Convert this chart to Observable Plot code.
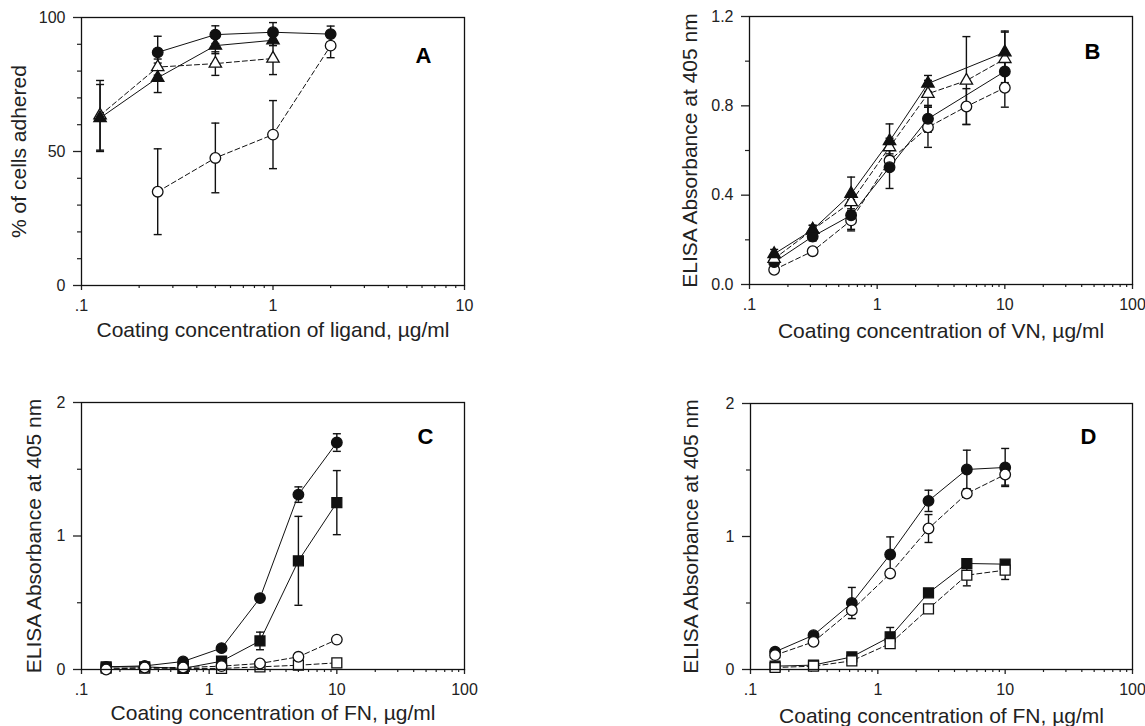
<!DOCTYPE html>
<html><head><meta charset="utf-8">
<script src="https://cdn.jsdelivr.net/npm/d3@7"></script>
<script src="https://cdn.jsdelivr.net/npm/@observablehq/plot@0.6"></script>
<style>
body{margin:0;background:#fff;}
#wrap{position:relative;width:1145px;height:726px;overflow:hidden;background:#fff;}
.panel{position:absolute;}
.panel svg{font-family:"Liberation Sans",Arial,sans-serif;overflow:visible;}
</style></head><body><div id="wrap"></div>
<script>
// ---------- Panel A: cell adhesion vs coating concentration of ligand ----------
const concA = [0.125, 0.25, 0.5, 1, 2];
const aFilledCircle      = [null, 87, 93.6, 94.5, 93.8];
const aFilledCircleErr   = [null, 6, 3.3, 3.6, 3];
const aFilledTriangle    = [62.5, 77.5, 89.5, 91.5, null];
const aFilledTriangleErr = [12.5, 5.5, 3, 2, null];
const aOpenTriangle      = [63.5, 81.5, 82.8, 84.7, null];
const aOpenTriangleErr   = [13, 3, 4.4, 6, null];
const aOpenCircle        = [null, 35, 47.6, 56.3, 89.5];
const aOpenCircleErr     = [null, 16, 13, 12.7, 4.5];

// ---------- Panel B: ELISA vs coating concentration of VN ----------
const concVN = [0.156, 0.3125, 0.625, 1.25, 2.5, 5, 10];
const bFilledTriangle    = [0.137, 0.245, 0.406, 0.642, 0.9, null, 1.04];
const bFilledTriangleErr = [0.02, 0.02, 0.075, 0.077, 0.036, null, 0.095];
const bOpenTriangle      = [0.115, 0.245, 0.369, 0.615, 0.854, 0.913, 1.01];
const bOpenTriangleErr   = [0.01, 0.02, 0.03, 0.04, 0.06, 0.197, 0.12];
const bFilledCircle      = [0.1, 0.215, 0.31, 0.525, 0.742, null, 0.954];
const bFilledCircleErr   = [0.01, 0.02, 0.07, 0.095, 0.06, null, 0.05];
const bOpenCircle        = [0.066, 0.149, 0.287, 0.555, 0.704, 0.797, 0.881];
const bOpenCircleErr     = [0.01, 0.01, 0.04, 0.03, 0.09, 0.08, 0.087];

// ---------- Panel C: ELISA vs coating concentration of FN ----------
const concFN = [0.156, 0.3125, 0.625, 1.25, 2.5, 5, 10];
const cFilledCircle    = [0.02, 0.027, 0.06, 0.16, 0.535, 1.31, 1.7];
const cFilledCircleErr = [0, 0, 0, 0, 0, 0.058, 0.066];
const cFilledSquare    = [0.02, 0.02, 0.008, 0.062, 0.214, 0.814, 1.25];
const cFilledSquareErr = [0, 0, 0, 0, 0.066, 0.333, 0.24];
const cOpenCircle      = [0.0, 0.015, 0.015, 0.025, 0.045, 0.095, 0.224];
const cOpenSquare      = [0.01, 0.01, 0.008, 0.008, 0.02, 0.032, 0.05];

// ---------- Panel D: ELISA vs coating concentration of FN ----------
const dFilledCircle    = [0.133, 0.258, 0.5, 0.865, 1.268, 1.504, 1.519];
const dFilledCircleErr = [0, 0.02, 0.117, 0.132, 0.08, 0.145, 0.143];
const dOpenCircle      = [0.108, 0.208, 0.446, 0.722, 1.06, 1.323, 1.466];
const dOpenCircleErr   = [0, 0, 0, 0, 0.105, 0, 0.08];
const dFilledSquare    = [0.025, 0.033, 0.095, 0.246, 0.576, 0.797, 0.792];
const dFilledSquareErr = [0, 0, 0, 0.07, 0, 0, 0];
const dOpenSquare      = [0.015, 0.025, 0.065, 0.195, 0.456, 0.709, 0.747];
const dOpenSquareErr   = [0, 0, 0, 0, 0, 0.08, 0.07];

// ---------- Ticks and labels ----------
const xTicksA = [0.1, 1, 10];
const xTickLabelsA = [".1", "1", "10"];
const xTicksBCD = [0.1, 1, 10, 100];
const xTickLabelsBCD = [".1", "1", "10", "100"];
const yTicksA = [0, 50, 100];
const yTickLabelsA = ["0", "50", "100"];
const yMinorA = [10, 20, 30, 40, 60, 70, 80, 90];
const yTicksB = [0, 0.4, 0.8, 1.2];
const yTickLabelsB = ["0.0", "0.4", "0.8", "1.2"];
const yMinorB = [0.2, 0.6, 1.0];
const yTicksCD = [0, 1, 2];
const yTickLabelsCD = ["0", "1", "2"];
const yMinorCD = [0.5, 1.5];

const xLabelA = "Coating concentration of ligand, \u00b5g/ml";
const xLabelB = "Coating concentration of VN, \u00b5g/ml";
const xLabelFN = "Coating concentration of FN, \u00b5g/ml";
const yLabelA = "% of cells adhered";
const yLabelElisa = "ELISA Absorbance at 405 nm";

function minorLog(lo, hi) {
  const out = [];
  for (let d = lo; d < hi; d *= 10) for (let k = 2; k <= 9; k++) out.push(+(d * k).toPrecision(3));
  return out;
}

const capSymbol = {
  draw(context, size) {
    const w = Math.sqrt(size / Math.PI);
    context.moveTo(-w, 0);
    context.lineTo(w, 0);
  }
};

const INK = "#111";

const panels = [
  {letter: "A", left: 0, top: 0, width: 484, height: 345, mt: 17, mr: 20, mb: 60, ml: 81,
   x: concA, xDomain: [0.1, 10], yDomain: [0, 100],
   xTicks: xTicksA, xTickLabels: xTickLabelsA, yTicks: yTicksA, yTickLabels: yTickLabelsA, yMinor: yMinorA,
   xLabel: xLabelA, yLabel: yLabelA, yLabelDx: -62, xLabelDy: 45, letterDx: -41, letterDy: 38,
   series: [
     {y: aOpenCircle, err: aOpenCircleErr, symbol: "circle", filled: false},
     {y: aOpenTriangle, err: aOpenTriangleErr, symbol: "triangle", filled: false},
     {y: aFilledTriangle, err: aFilledTriangleErr, symbol: "triangle", filled: true},
     {y: aFilledCircle, err: aFilledCircleErr, symbol: "circle", filled: true}
   ]},
  {letter: "B", left: 572, top: 0, width: 573, height: 344, mt: 16, mr: 13, mb: 60, ml: 177,
   x: concVN, xDomain: [0.1, 100], yDomain: [0, 1.2],
   xTicks: xTicksBCD, xTickLabels: xTickLabelsBCD, yTicks: yTicksB, yTickLabels: yTickLabelsB, yMinor: yMinorB,
   xLabel: xLabelB, yLabel: yLabelElisa, yLabelDx: -59, xLabelDy: 47, letterDx: -40, letterDy: 35,
   series: [
     {y: bOpenCircle, err: bOpenCircleErr, symbol: "circle", filled: false},
     {y: bFilledCircle, err: bFilledCircleErr, symbol: "circle", filled: true},
     {y: bOpenTriangle, err: bOpenTriangleErr, symbol: "triangle", filled: false},
     {y: bFilledTriangle, err: bFilledTriangleErr, symbol: "triangle", filled: true}
   ]},
  {letter: "C", left: 0, top: 380, width: 484, height: 346, mt: 22, mr: 20, mb: 57, ml: 81,
   x: concFN, xDomain: [0.1, 100], yDomain: [0, 2],
   xTicks: xTicksBCD, xTickLabels: xTickLabelsBCD, yTicks: yTicksCD, yTickLabels: yTickLabelsCD, yMinor: yMinorCD,
   xLabel: xLabelFN, yLabel: yLabelElisa, yLabelDx: -47, xLabelDy: 44, letterDx: -39, letterDy: 34,
   series: [
     {y: cOpenSquare, err: null, symbol: "square", filled: false},
     {y: cFilledSquare, err: cFilledSquareErr, symbol: "square", filled: true},
     {y: cFilledCircle, err: cFilledCircleErr, symbol: "circle", filled: true},
     {y: cOpenCircle, err: null, symbol: "circle", filled: false}
   ]},
  {letter: "D", left: 572, top: 380, width: 573, height: 346, mt: 23, mr: 13, mb: 57, ml: 178,
   x: concFN, xDomain: [0.1, 100], yDomain: [0, 2],
   xTicks: xTicksBCD, xTickLabels: xTickLabelsBCD, yTicks: yTicksCD, yTickLabels: yTickLabelsCD, yMinor: yMinorCD,
   xLabel: xLabelFN, yLabel: yLabelElisa, yLabelDx: -59, xLabelDy: 47, letterDx: -44, letterDy: 33,
   series: [
     {y: dFilledSquare, err: dFilledSquareErr, symbol: "square", filled: true},
     {y: dOpenSquare, err: dOpenSquareErr, symbol: "square", filled: false},
     {y: dFilledCircle, err: dFilledCircleErr, symbol: "circle", filled: true},
     {y: dOpenCircle, err: dOpenCircleErr, symbol: "circle", filled: false}
   ]}
];

function build(p) {
  const errMarks = [], lineMarks = [], dotMarks = [];
  for (const s of p.series) {
    const rows = p.x.map((xv, i) => ({x: xv, y: s.y[i], e: s.err ? s.err[i] : 0}))
                    .filter(d => d.y != null);
    const errRows = rows.filter(d => d.e > 0);
    errMarks.push(
      Plot.ruleX(errRows, {x: "x", y1: d => d.y - d.e, y2: d => d.y + d.e, stroke: INK, strokeWidth: 1.4}),
      Plot.dot(errRows, {x: "x", y: d => d.y + d.e, symbol: capSymbol, r: 4, fill: "none", stroke: INK, strokeWidth: 1.4}),
      Plot.dot(errRows, {x: "x", y: d => d.y - d.e, symbol: capSymbol, r: 4, fill: "none", stroke: INK, strokeWidth: 1.4})
    );
    lineMarks.push(Plot.line(rows, {x: "x", y: "y", stroke: INK, strokeWidth: 1,
      strokeDasharray: s.filled ? null : "5,3"}));
    const r = s.symbol === "triangle" ? 4.6 : s.symbol === "square" ? 5.6 : 5.3;
    dotMarks.push(Plot.dot(rows, {x: "x", y: "y", symbol: s.symbol, r,
      fill: s.filled ? INK : "white", stroke: INK, strokeWidth: 1.3}));
  }
  const fx = v => p.xTickLabels[p.xTicks.indexOf(v)];
  const fy = v => p.yTickLabels[p.yTicks.indexOf(v)];
  return Plot.plot({
    width: p.width, height: p.height,
    marginTop: p.mt, marginRight: p.mr, marginBottom: p.mb, marginLeft: p.ml,
    style: {fontFamily: "'Liberation Sans', Arial, sans-serif", fontSize: "16px", color: "#222", background: "white", overflow: "visible"},
    x: {type: "log", domain: p.xDomain},
    y: {domain: p.yDomain},
    marks: [
      Plot.axisX({ticks: p.xTicks, tickSize: 5, tickPadding: 9, tickFormat: fx, label: null, fontSize: 16, strokeWidth: 1.3}),
      Plot.axisX({ticks: minorLog(p.xDomain[0], p.xDomain[1]), tickSize: 3, tickFormat: () => "", label: null, strokeWidth: 1.2}),
      Plot.axisY({ticks: p.yTicks, tickSize: 8, tickPadding: 8, tickFormat: fy, label: null, fontSize: 16, strokeWidth: 1.3}),
      Plot.axisY({ticks: p.yMinor, tickSize: 4, tickFormat: () => "", label: null, strokeWidth: 1.2}),
      ...errMarks,
      ...lineMarks,
      ...dotMarks,
      Plot.frame({stroke: INK, strokeWidth: 1.3}),
      Plot.text([p.xLabel], {frameAnchor: "bottom", text: d => d, dy: p.xLabelDy, textAnchor: "middle", lineAnchor: "middle", fontSize: 21}),
      Plot.text([p.yLabel], {frameAnchor: "left", text: d => d, rotate: -90, dx: p.yLabelDx, textAnchor: "middle", lineAnchor: "middle", fontSize: 21}),
      Plot.text([p.letter], {frameAnchor: "top-right", text: d => d, dx: p.letterDx, dy: p.letterDy, textAnchor: "middle", lineAnchor: "middle", fontSize: 22, fontWeight: "bold", fill: "#000"})
    ]
  });
}

const wrap = document.getElementById("wrap");
for (const p of panels) {
  const div = document.createElement("div");
  div.className = "panel";
  div.style.left = p.left + "px";
  div.style.top = p.top + "px";
  div.appendChild(build(p));
  wrap.appendChild(div);
}
</script>
</body></html>
